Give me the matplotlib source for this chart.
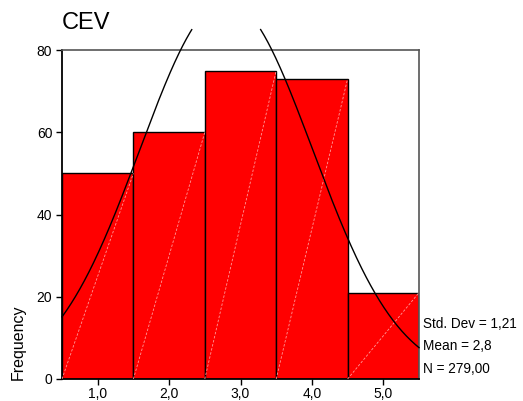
import numpy as np
import matplotlib
matplotlib.use("Agg")
import matplotlib.pyplot as plt

plt.rcParams['font.family'] = ['Liberation Sans', 'DejaVu Sans']

# Histogram of CEV scores
bin_centers = [1, 2, 3, 4, 5]
frequencies = [50, 60, 75, 73, 21]
tick_labels = ["1,0", "2,0", "3,0", "4,0", "5,0"]
y_ticks = [0, 20, 40, 60, 80]

std_dev = 1.21
mean = 2.8
n_total = 279
bin_width = 1.0


def comma(value, digits):
    return f"{value:.{digits}f}".replace('.', ',')


fig = plt.figure(figsize=(5.23, 4.01), dpi=100)
ax = fig.add_axes([62 / 523, 22 / 401, 357 / 523, 329 / 401])

ax.bar(bin_centers, frequencies, width=bin_width, color='#ff0000',
       edgecolor='black', linewidth=1.0, zorder=2)

# faint diagonal line across each bar (corner to corner)
for c, f in zip(bin_centers, frequencies):
    ax.plot([c - bin_width / 2, c + bin_width / 2], [0, f],
            color=(1, 0.6, 0.6), lw=0.6, ls=(0, (3, 2)), zorder=3)

# fitted normal curve scaled to counts
xs = np.linspace(0.5, 5.5, 400)
ys = n_total * bin_width / (std_dev * np.sqrt(2 * np.pi)) * \
    np.exp(-0.5 * ((xs - mean) / std_dev) ** 2)
ys = np.where(ys > 85, np.nan, ys)
ax.plot(xs, ys, color='black', lw=1.0, zorder=4, clip_on=False)

ax.set_xlim(0.5, 5.5)
ax.set_ylim(0, 80)
ax.set_xticks(bin_centers)
ax.set_xticklabels(tick_labels)
ax.set_yticks(y_ticks)
ax.tick_params(axis='both', labelsize=10, length=4, width=1.0,
               direction='out', pad=3, colors='black')
ax.tick_params(axis='x', pad=2)

for side in ('left', 'bottom'):
    ax.spines[side].set_color('black')
    ax.spines[side].set_linewidth(1.3)
for side in ('top', 'right'):
    ax.spines[side].set_color('#555555')
    ax.spines[side].set_linewidth(1.2)

fig.text(62 / 523, 1 - 29 / 401, "CEV", fontsize=17, ha='left', va='baseline')
fig.text(18.5 / 523, 21 / 401, "Frequency", fontsize=11.5, rotation=90,
         ha='center', va='bottom')

fig.text(423 / 523, 1 - 328 / 401, f"Std. Dev = {comma(std_dev, 2)}",
         fontsize=9.8, ha='left', va='baseline')
fig.text(423 / 523, 1 - 350 / 401, f"Mean = {comma(mean, 1)}",
         fontsize=9.8, ha='left', va='baseline')
fig.text(423 / 523, 1 - 373 / 401, f"N = {comma(n_total, 2)}",
         fontsize=9.8, ha='left', va='baseline')

fig.savefig("out.png", dpi=100)
